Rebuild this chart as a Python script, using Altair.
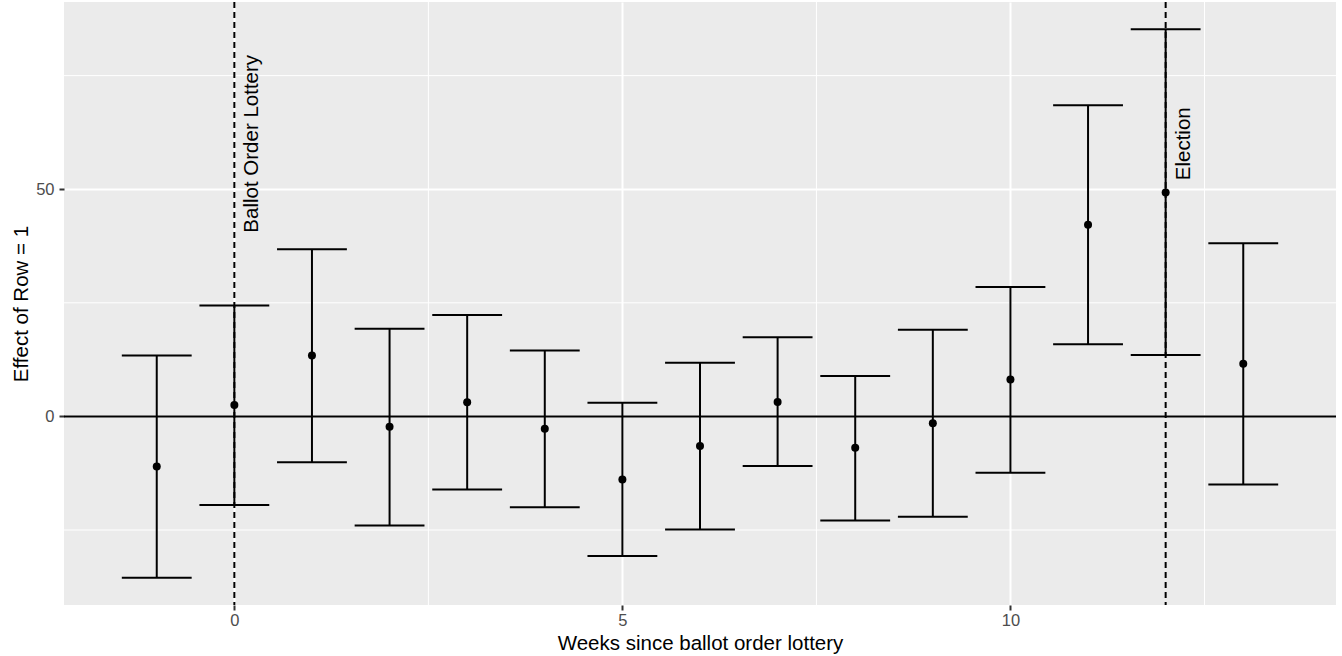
import altair as alt
import pandas as pd

# ---- data ----
weeks = [-1, 0, 1, 2, 3, 4, 5, 6, 7, 8, 9, 10, 11, 12, 13]
estimate = [-11.0, 2.5, 13.4, -2.3, 3.1, -2.7, -13.9, -6.5, 3.2, -6.9, -1.5, 8.1, 42.2, 49.3, 11.6]
lower = [-35.5, -19.5, -10.1, -24.0, -16.1, -20.0, -30.7, -24.9, -10.9, -22.9, -22.1, -12.4, 15.9, 13.5, -15.0]
upper = [13.4, 24.4, 36.8, 19.3, 22.3, 14.5, 3.0, 11.8, 17.4, 8.9, 19.1, 28.5, 68.5, 85.2, 38.1]

event_weeks = [0, 12]
event_labels = ["Ballot Order Lottery", "Election"]
event_label_y = [60, 60]

x_ticks = [0, 5, 10]
x_minor = [2.5, 7.5, 12.5]
y_ticks = [0, 50]
y_minor = [-25, 25, 75]

x_domain = [-2.195, 14.195]
y_domain = [-41.5, 91.2]

FONT = "Liberation Sans, Arial, Helvetica, sans-serif"
W, H = 1272, 603

df = pd.DataFrame({"week": weeks, "est": estimate, "lo": lower, "hi": upper})
ev = pd.DataFrame({"week": event_weeks, "label": event_labels, "y": event_label_y})

xs = alt.Scale(domain=x_domain, nice=False, zero=False)
ys = alt.Scale(domain=y_domain, nice=False, zero=False)

base = alt.Chart(df)

xaxis = alt.Axis(values=x_ticks, format="d", title="Weeks since ballot order lottery", grid=True,
                 gridColor="white", gridWidth=2, labelPadding=2,
                 titleX=W / 2, titleY=44.5, titleAlign="center", titleBaseline="alphabetic")
yaxis = alt.Axis(values=y_ticks, format="d", title="Effect of Row = 1", grid=True,
                 gridColor="white", gridWidth=2, labelPadding=5,
                 titleX=-37, titleY=H / 2, titleAngle=270, titleAlign="center",
                 titleBaseline="alphabetic")

# minor grid lines
minor_x = alt.Chart(pd.DataFrame({"v": x_minor})).mark_rule(color="white", strokeWidth=1).encode(
    x=alt.X("v:Q", scale=xs, axis=xaxis)
)
minor_y = alt.Chart(pd.DataFrame({"v": y_minor})).mark_rule(color="white", strokeWidth=1).encode(
    y=alt.Y("v:Q", scale=ys, axis=yaxis)
)

hline = alt.Chart(pd.DataFrame({"v": [0]})).mark_rule(color="black", strokeWidth=2).encode(
    y=alt.Y("v:Q", scale=ys)
)

vlines = alt.Chart(ev).mark_rule(color="black", strokeWidth=2, strokeDash=[6, 4]).encode(
    x=alt.X("week:Q", scale=xs)
)

stems = base.mark_rule(color="black", strokeWidth=2).encode(
    x=alt.X("week:Q", scale=xs),
    y=alt.Y("lo:Q", scale=ys),
    y2="hi:Q",
)

caps_lo = base.transform_calculate(x1="datum.week - 0.45", x2="datum.week + 0.45").mark_rule(
    color="black", strokeWidth=2).encode(
    x=alt.X("x1:Q", scale=xs), x2="x2:Q", y=alt.Y("lo:Q", scale=ys)
)
caps_hi = base.transform_calculate(x1="datum.week - 0.45", x2="datum.week + 0.45").mark_rule(
    color="black", strokeWidth=2).encode(
    x=alt.X("x1:Q", scale=xs), x2="x2:Q", y=alt.Y("hi:Q", scale=ys)
)

points = base.mark_circle(color="black", opacity=1, size=64).encode(
    x=alt.X("week:Q", scale=xs),
    y=alt.Y("est:Q", scale=ys),
)

labels = alt.Chart(ev).mark_text(
    angle=270, align="center", baseline="alphabetic", dy=24,
    fontSize=20.5, font=FONT, color="black"
).encode(
    x=alt.X("week:Q", scale=xs),
    y=alt.Y("y:Q", scale=ys),
    text="label:N",
)

chart = alt.layer(
    minor_x, minor_y, hline, vlines, stems, caps_lo, caps_hi, points, labels
).properties(
    width=W, height=H,
    autosize=alt.AutoSizeParams(type="none"),
    padding={"left": 64, "top": 2, "right": 6, "bottom": 51},
    background="white",
).configure_view(
    fill="#EBEBEB", stroke=None
).configure_axis(
    domain=False, tickColor="#333333", tickSize=5, tickWidth=2,
    labelColor="#4D4D4D", labelFontSize=16.5, labelFont=FONT,
    titleFont=FONT, titleFontSize=20.5, titleFontWeight="normal", titleColor="black",
)

chart.save("out.html", embed_options={"renderer": "svg", "actions": False})
